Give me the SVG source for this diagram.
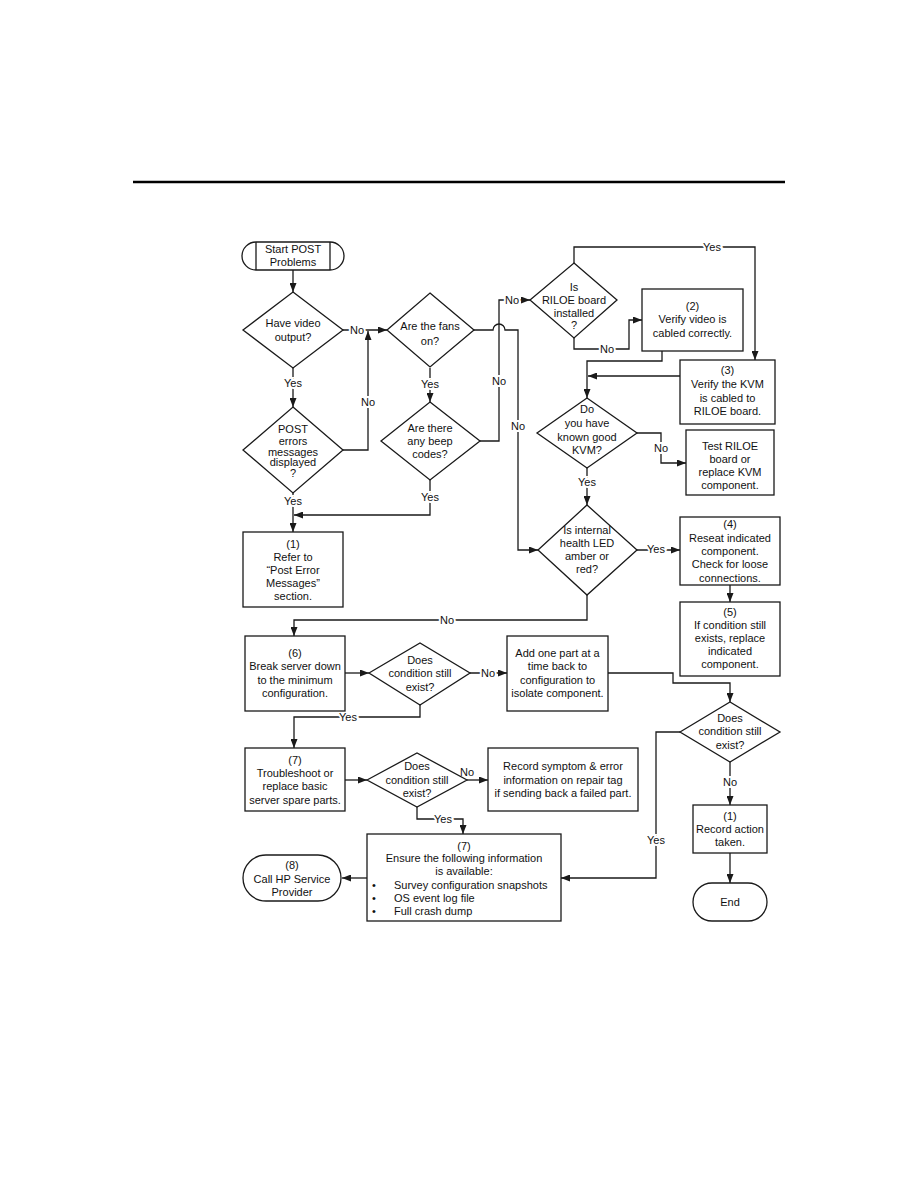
<svg xmlns="http://www.w3.org/2000/svg" width="918" height="1188" viewBox="0 0 918 1188">
<style>
.n{fill:#fff;stroke:#1a1a1a;stroke-width:1.3}
.c{fill:none;stroke:#1a1a1a;stroke-width:1.3}
text{font-family:"Liberation Sans",Arial,sans-serif;font-size:11px;fill:#111;text-anchor:middle}
.l{stroke:#fff;stroke-width:4;paint-order:stroke}
.s{text-anchor:start}
</style>
<defs>
<marker id="a" markerWidth="9" markerHeight="7" refX="9" refY="3.5" orient="auto" markerUnits="userSpaceOnUse"><path d="M0,0 L9,3.5 L0,7 z" fill="#1a1a1a"/></marker>
</defs>
<rect x="0" y="0" width="918" height="1188" fill="#fff"/>
<line x1="133" y1="182" x2="785" y2="182" stroke="#000" stroke-width="2.5"/>

<g id="connectors">
<path class="c" d="M293,270 V292" marker-end="url(#a)"/>
<path class="c" d="M343,330 H387" marker-end="url(#a)"/>
<path class="c" d="M343,450 H368 V331" marker-end="url(#a)"/>
<path class="c" d="M293,368 V407" marker-end="url(#a)"/>
<path class="c" d="M293,493 V532" marker-end="url(#a)"/>
<path class="c" d="M430,368 V402" marker-end="url(#a)"/>
<path class="c" d="M430,480 V515 H294" marker-end="url(#a)"/>
<path class="c" d="M480,441 H499 V300 H530" marker-end="url(#a)"/>
<path class="c" d="M474,330 H493 A6,6 0 0 1 505,330 H518 V550 H538" marker-end="url(#a)"/>
<path class="c" d="M574,263 V247 H755 V360" marker-end="url(#a)"/>
<path class="c" d="M574,338 V349 H629 V320 H642" marker-end="url(#a)"/>
<path class="c" d="M662,351 V361 H587 V398" marker-end="url(#a)"/>
<path class="c" d="M680,376 H588" marker-end="url(#a)"/>
<path class="c" d="M637,433 H661 V463 H686" marker-end="url(#a)"/>
<path class="c" d="M587,468 V505" marker-end="url(#a)"/>
<path class="c" d="M637,550 H680" marker-end="url(#a)"/>
<path class="c" d="M730,585 V602" marker-end="url(#a)"/>
<path class="c" d="M587,595 V620 H294 V636" marker-end="url(#a)"/>
<path class="c" d="M345,673 H369" marker-end="url(#a)"/>
<path class="c" d="M470,673 H507" marker-end="url(#a)"/>
<path class="c" d="M608,673 H673 V683 H730 V702" marker-end="url(#a)"/>
<path class="c" d="M420,705 V717 H294 V748" marker-end="url(#a)"/>
<path class="c" d="M345,780 H367" marker-end="url(#a)"/>
<path class="c" d="M467,780 H488" marker-end="url(#a)"/>
<path class="c" d="M417,807 V819 H463 V834" marker-end="url(#a)"/>
<path class="c" d="M367,878 H342" marker-end="url(#a)"/>
<path class="c" d="M680,732 H656 V878 H561" marker-end="url(#a)"/>
<path class="c" d="M730,762 V805" marker-end="url(#a)"/>
<path class="c" d="M730,853 V883" marker-end="url(#a)"/>
<text class="l" x="357" y="334">No</text>
<text class="l" x="368" y="406">No</text>
<text class="l" x="293" y="387">Yes</text>
<text class="l" x="293" y="505">Yes</text>
<text class="l" x="430" y="388">Yes</text>
<text class="l" x="430" y="501">Yes</text>
<text class="l" x="499" y="385">No</text>
<text class="l" x="512" y="304">No</text>
<text class="l" x="518" y="430">No</text>
<text class="l" x="712" y="251">Yes</text>
<text class="l" x="607" y="353">No</text>
<text class="l" x="661" y="452">No</text>
<text class="l" x="587" y="486">Yes</text>
<text class="l" x="656" y="553">Yes</text>
<text class="l" x="447" y="624">No</text>
<text class="l" x="488" y="677">No</text>
<text class="l" x="348" y="721">Yes</text>
<text x="467" y="776">No</text>
<text class="l" x="443" y="823">Yes</text>
<text class="l" x="656" y="844">Yes</text>
<text class="l" x="730" y="786">No</text>
</g>

<g id="start">
<path class="n" d="M256,242 H330 A14,14 0 0 1 330,270 H256 A14,14 0 0 1 256,242 Z"/>
<line class="c" x1="256" y1="242" x2="256" y2="270"/>
<line class="c" x1="330" y1="242" x2="330" y2="270"/>
<text x="293" y="253">Start POST</text>
<text x="293" y="266">Problems</text>
</g>

<g id="video">
<polygon class="n" points="293,292 343,330 293,368 243,330"/>
<text x="293" y="327">Have video</text>
<text x="293" y="341">output?</text>
</g>

<g id="fans">
<polygon class="n" points="430,293 474,330 430,367 387,330"/>
<text x="430" y="330">Are the fans</text>
<text x="430" y="345">on?</text>
</g>

<g id="beep">
<polygon class="n" points="430,402 480,441 430,480 381,441"/>
<text x="430" y="432">Are there</text>
<text x="430" y="445">any beep</text>
<text x="430" y="458">codes?</text>
</g>

<g id="posterr">
<polygon class="n" points="293,407 343,450 293,493 243,450"/>
<text x="293" y="433">POST</text>
<text x="293" y="445">errors</text>
<text x="293" y="456">messages</text>
<text x="293" y="466">displayed</text>
<text x="293" y="477">?</text>
</g>

<g id="box1">
<rect class="n" x="243" y="532" width="100" height="75"/>
<text x="293" y="548">(1)</text>
<text x="293" y="561">Refer to</text>
<text x="293" y="574">“Post Error</text>
<text x="293" y="587">Messages”</text>
<text x="293" y="600">section.</text>
</g>

<g id="riloe">
<polygon class="n" points="574,263 617,300 574,338 530,300"/>
<text x="574" y="291">Is</text>
<text x="574" y="304">RILOE board</text>
<text x="574" y="317">installed</text>
<text x="574" y="329">?</text>
</g>

<g id="box2">
<rect class="n" x="642" y="289" width="101" height="62"/>
<text x="692.5" y="310">(2)</text>
<text x="692.5" y="323">Verify video is</text>
<text x="692.5" y="337">cabled correctly.</text>
</g>

<g id="box3">
<rect class="n" x="680" y="360" width="95" height="64"/>
<text x="727.5" y="374">(3)</text>
<text x="727.5" y="388">Verify the KVM</text>
<text x="727.5" y="402">is cabled to</text>
<text x="727.5" y="415">RILOE board.</text>
</g>

<g id="kvm">
<polygon class="n" points="587,398 637,433 587,468 537,433"/>
<text x="587" y="413">Do</text>
<text x="587" y="427">you have</text>
<text x="587" y="441">known good</text>
<text x="587" y="454">KVM?</text>
</g>

<g id="testriloe">
<rect class="n" x="686" y="430" width="88" height="65"/>
<text x="730" y="450">Test RILOE</text>
<text x="730" y="463">board or</text>
<text x="730" y="476">replace KVM</text>
<text x="730" y="489">component.</text>
</g>

<g id="health">
<polygon class="n" points="587,505 637,550 587,595 538,550"/>
<text x="587" y="534">Is internal</text>
<text x="587" y="547">health LED</text>
<text x="587" y="560">amber or</text>
<text x="587" y="573">red?</text>
</g>

<g id="box4">
<rect class="n" x="680" y="517" width="100" height="68"/>
<text x="730" y="528">(4)</text>
<text x="730" y="542">Reseat indicated</text>
<text x="730" y="555">component.</text>
<text x="730" y="568">Check for loose</text>
<text x="730" y="582">connections.</text>
</g>

<g id="box5">
<rect class="n" x="680" y="602" width="100" height="74"/>
<text x="730" y="616">(5)</text>
<text x="730" y="629">If condition still</text>
<text x="730" y="642">exists, replace</text>
<text x="730" y="655">indicated</text>
<text x="730" y="668">component.</text>
</g>

<g id="box6">
<rect class="n" x="245" y="636" width="100" height="75"/>
<text x="295" y="657">(6)</text>
<text x="295" y="670">Break server down</text>
<text x="295" y="684">to the minimum</text>
<text x="295" y="697">configuration.</text>
</g>

<g id="cond1">
<polygon class="n" points="369,673 420,643 470,673 420,705"/>
<text x="420" y="664">Does</text>
<text x="420" y="677">condition still</text>
<text x="420" y="691">exist?</text>
</g>

<g id="addpart">
<rect class="n" x="507" y="636" width="101" height="75"/>
<text x="557.5" y="657">Add one part at a</text>
<text x="557.5" y="670">time back to</text>
<text x="557.5" y="684">configuration to</text>
<text x="557.5" y="697">isolate component.</text>
</g>

<g id="cond2">
<polygon class="n" points="680,732 730,702 780,732 730,762"/>
<text x="730" y="722">Does</text>
<text x="730" y="735">condition still</text>
<text x="730" y="749">exist?</text>
</g>

<g id="box7">
<rect class="n" x="245" y="748" width="100" height="63"/>
<text x="295" y="764">(7)</text>
<text x="295" y="777">Troubleshoot or</text>
<text x="295" y="790">replace basic</text>
<text x="295" y="804">server spare parts.</text>
</g>

<g id="cond3">
<polygon class="n" points="367,780 417,753 467,780 417,807"/>
<text x="417" y="770">Does</text>
<text x="417" y="784">condition still</text>
<text x="417" y="797">exist?</text>
</g>

<g id="recsym">
<rect class="n" x="488" y="748" width="150" height="63"/>
<text x="563" y="770">Record symptom &amp; error</text>
<text x="563" y="784">information on repair tag</text>
<text x="563" y="797">if sending back a failed part.</text>
</g>

<g id="ensure">
<rect class="n" x="367" y="834" width="194" height="87"/>
<text x="464" y="850">(7)</text>
<text x="464" y="862">Ensure the following information</text>
<text x="464" y="875">is available:</text>
<text x="372" y="889" class="s">•</text>
<text x="394" y="889" class="s">Survey configuration snapshots</text>
<text x="372" y="902" class="s">•</text>
<text x="394" y="902" class="s">OS event log file</text>
<text x="372" y="915" class="s">•</text>
<text x="394" y="915" class="s">Full crash dump</text>
</g>

<g id="callhp">
<path class="n" d="M266,855 H318 A23,23 0 0 1 318,901 H266 A23,23 0 0 1 266,855 Z"/>
<text x="292" y="869">(8)</text>
<text x="292" y="883">Call HP Service</text>
<text x="292" y="896">Provider</text>
</g>

<g id="recact">
<rect class="n" x="693" y="805" width="74" height="48"/>
<text x="730" y="820">(1)</text>
<text x="730" y="833">Record action</text>
<text x="730" y="846">taken.</text>
</g>

<g id="end">
<path class="n" d="M712,883 H748 A19,19 0 0 1 748,921 H712 A19,19 0 0 1 712,883 Z"/>
<text x="730" y="906">End</text>
</g>
</svg>
